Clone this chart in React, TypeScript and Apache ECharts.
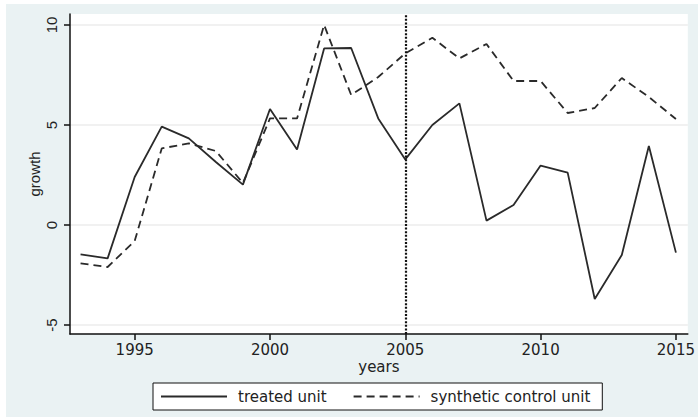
import React, { useEffect, useRef } from "react";
import * as echarts from "echarts";

// Annual growth, treated unit vs. its synthetic control
const years = [
  1993, 1994, 1995, 1996, 1997, 1998, 1999, 2000, 2001, 2002, 2003, 2004,
  2005, 2006, 2007, 2008, 2009, 2010, 2011, 2012, 2013, 2014, 2015,
];
const treatedUnit = [
  -1.47, -1.67, 2.4, 4.92, 4.33, 3.15, 2.02, 5.8, 3.78, 8.83, 8.85, 5.33,
  3.28, 5.0, 6.08, 0.22, 1.0, 2.97, 2.62, -3.7, -1.5, 3.95, -1.38,
];
const syntheticControl = [
  -1.92, -2.1, -0.8, 3.83, 4.08, 3.7, 2.1, 5.33, 5.33, 10.0, 6.5, 7.4,
  8.58, 9.36, 8.33, 9.05, 7.2, 7.2, 5.6, 5.85, 7.35, 6.4, 5.3,
];
const seriesNames = ["treated unit", "synthetic control unit"];
const xTicks = [1995, 2000, 2005, 2010, 2015];
const yTicks = [-5, 0, 5, 10];
const treatmentYear = 2005;

const INK = "#222";

export default function App() {
  const ref = useRef<HTMLDivElement>(null);

  useEffect(() => {
    if (!ref.current) return;
    const chart = echarts.init(ref.current, null, { renderer: "svg" });

    const pairs = (vals: number[]) => years.map((y, i) => [y, vals[i]]);

    chart.setOption({
      animation: false,
      backgroundColor: "#eaf2f3",
      grid: {
        left: 64,
        top: 10,
        right: 6,
        bottom: 83,
        show: true,
        backgroundColor: "#ffffff",
        borderWidth: 0,
      },
      legend: {
        data: seriesNames,
        left: 147,
        top: 379,
        orient: "horizontal",
        itemWidth: 66,
        itemHeight: 14,
        itemGap: 26,
        padding: [6, 12, 6, 7],
        backgroundColor: "#ffffff",
        borderColor: "#111",
        borderWidth: 1,
        borderRadius: 0,
        itemStyle: { opacity: 0, borderWidth: 0 },
        textStyle: {
          fontFamily: "DejaVu Sans",
          fontSize: 15,
          color: INK,
          padding: [0, 0, 0, 6],
        },
      },
      xAxis: {
        type: "value",
        min: 1992.61,
        max: 2015.44,
        name: "years",
        nameLocation: "middle",
        nameGap: 25,
        nameMoveOverlap: false,
        nameTextStyle: { fontFamily: "DejaVu Sans", fontSize: 15, color: INK },
        axisLine: {
          show: true,
          onZero: false,
          lineStyle: { color: "#111", width: 1.5 },
        },
        axisTick: {
          show: true,
          length: 6,
          customValues: xTicks,
          lineStyle: { color: "#111", width: 1.5 },
        },
        axisLabel: {
          customValues: xTicks,
          formatter: (v: number) => String(v),
          fontFamily: "DejaVu Sans",
          fontSize: 15,
          color: INK,
          margin: 8,
        },
        splitLine: { show: false },
      },
      yAxis: {
        type: "value",
        min: -5.45,
        max: 10.55,
        name: "growth",
        nameLocation: "middle",
        nameGap: 28,
        nameMoveOverlap: false,
        nameRotate: 90,
        nameTextStyle: { fontFamily: "Liberation Sans", fontSize: 15, color: INK },
        axisLine: {
          show: true,
          onZero: false,
          lineStyle: { color: "#111", width: 1.5 },
        },
        axisTick: {
          show: true,
          length: 6,
          customValues: yTicks,
          lineStyle: { color: "#111", width: 1.5 },
        },
        axisLabel: {
          customValues: yTicks,
          formatter: (v: number) => String(v),
          rotate: 90,
          fontFamily: "Liberation Sans",
          fontSize: 15,
          color: INK,
          margin: 11,
        },
        splitLine: { show: true, lineStyle: { color: "#ececec", width: 1.5 } },
      },
      series: [
        {
          name: seriesNames[0],
          type: "line",
          data: pairs(treatedUnit),
          symbol: "none",
          lineStyle: { color: "#2a2a2a", width: 1.8, type: "solid" },
          itemStyle: { color: "#2a2a2a" },
          z: 3,
          markLine: {
            silent: true,
            symbol: ["none", "none"],
            label: { show: false },
            lineStyle: { color: "#111", width: 2.2, type: [2, 1.6] },
            emphasis: { disabled: true },
            data: [{ xAxis: treatmentYear }],
          },
        },
        {
          name: seriesNames[1],
          type: "line",
          data: pairs(syntheticControl),
          symbol: "none",
          lineStyle: { color: "#2a2a2a", width: 1.8, type: [8, 5] },
          itemStyle: { color: "#2a2a2a" },
          z: 2,
        },
      ],
    });

    return () => chart.dispose();
  }, []);

  return (
    <div
      ref={ref}
      style={{
        position: "fixed",
        left: 6,
        top: 4,
        width: 692,
        height: 413,
      }}
    />
  );
}
